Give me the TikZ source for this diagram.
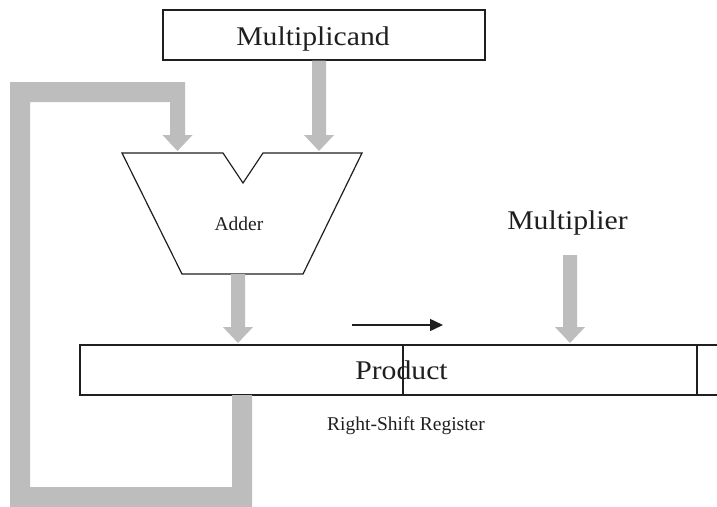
\documentclass[tikz,border=0pt]{standalone}
\usepackage{fontspec}
\setmainfont{Liberation Serif}
\newfontfamily\bigserif[FakeStretch=1.1]{Liberation Serif}
\usetikzlibrary{arrows.meta,calc}

\definecolor{busgray}{gray}{0.74}
\definecolor{inkline}{gray}{0.12}

\tikzset{
  regbox/.style={draw=inkline, line width=1.2pt, fill=white, inner sep=0pt},
  biglabel/.style={font=\bigserif\fontsize{27}{27}\selectfont, text=inkline, inner sep=0pt, anchor=base},
  smalllabel/.style={font=\fontsize{19.5}{19.5}\selectfont, text=inkline, inner sep=0pt, anchor=base},
  busfill/.style={fill=busgray, draw=none},
  shiftarrow/.style={draw=inkline, line width=1.5pt, -{Triangle[length=13pt,width=12pt]}},
}

% wide grey data-path arrow pointing straight down from #1 to the tip #2
\newcommand\busarrow[2]{%
  \fill[busfill] let \p1=(#1), \p2=(#2) in
    (\x2-7pt,\y1) -- (\x2+7pt,\y1) -- (\x2+7pt,\y2+16pt) -- (\x2+15pt,\y2+16pt)
    -- (\x2,\y2) -- (\x2-15pt,\y2+16pt) -- (\x2-7pt,\y2+16pt) -- cycle;}

\begin{document}
\begin{tikzpicture}[x=1pt, y=-1pt]
  \clip (0,0) rectangle (717,506);
  \fill[white] (0,0) rectangle (717,506);

  % registers
  \node[regbox, minimum width=322pt, minimum height=50pt] (mcand) at (324,35) {};
  \node[biglabel] (mcandtext) at (313,45) {Multiplicand};

  \node[regbox, minimum width=660pt, minimum height=50pt] (prod) at (410,370) {};
  \draw[draw=inkline, line width=1.1pt] (403,345) -- (403,395);
  \draw[draw=inkline, line width=1.1pt] (697,345) -- (697,395);
  \node[biglabel] (prodtext) at (401.5,379.3) {Product};
  \node[smalllabel] (rsr) at (406,430) {Right-Shift Register};

  % adder outline with its input notch
  \coordinate (addTL) at (122,153);
  \coordinate (addTR) at (362,153);
  \coordinate (addBL) at (182,274);
  \coordinate (addBR) at (303,274);
  \draw[draw=inkline, line width=1.2pt, line join=miter]
    (addTL) -- (223,153) -- (243,183) -- (263,153) -- (addTR) -- (addBR) -- (addBL) -- cycle;
  \node[smalllabel] (addertext) at (239,230) {Adder};

  \node[biglabel] (mplier) at (567.5,229) {Multiplier};

  % connection points
  \coordinate (addInA) at (177.5,151);
  \coordinate (addInB) at (319,151);
  \coordinate (addOut) at (238,274);
  \coordinate (prodInA) at (238,343);
  \coordinate (mplierIn) at (570,255);
  \coordinate (prodInB) at (570,343);
  \coordinate (fbOut) at (242,395);
  \coordinate (loopTL) at (10,82);
  \coordinate (loopBL) at (10,512);

  % feedback path from the product register back into the adder
  \fill[busfill] let \p1=(fbOut), \p2=(addInA), \p3=(loopTL), \p4=(loopBL) in
    (\x1+10pt,\y1) -- (\x1+10pt,\y4) -- (\x4,\y4) -- (\x3,\y3) -- (\x2+7.5pt,\y3)
    -- (\x2+7.5pt,\y2+16pt) -- (\x2+15pt,\y2+16pt) -- (\x2,\y2)
    -- (\x2-15pt,\y2+16pt) -- (\x2-7.5pt,\y2+16pt) -- (\x2-7.5pt,\y3-20pt)
    -- (\x3+20pt,\y3-20pt) -- (\x4+20pt,\y4+25pt) -- (\x1-10pt,\y4+25pt)
    -- (\x1-10pt,\y1) -- cycle;

  % data-path arrows
  \busarrow{mcand.south -| addInB}{addInB}
  \busarrow{addOut}{prodInA}
  \busarrow{mplierIn}{prodInB}

  % shift direction
  \coordinate (shiftA) at (352,325);
  \coordinate (shiftB) at (443,325);
  \draw[shiftarrow] (shiftA) -- (shiftB);
\end{tikzpicture}
\end{document}
